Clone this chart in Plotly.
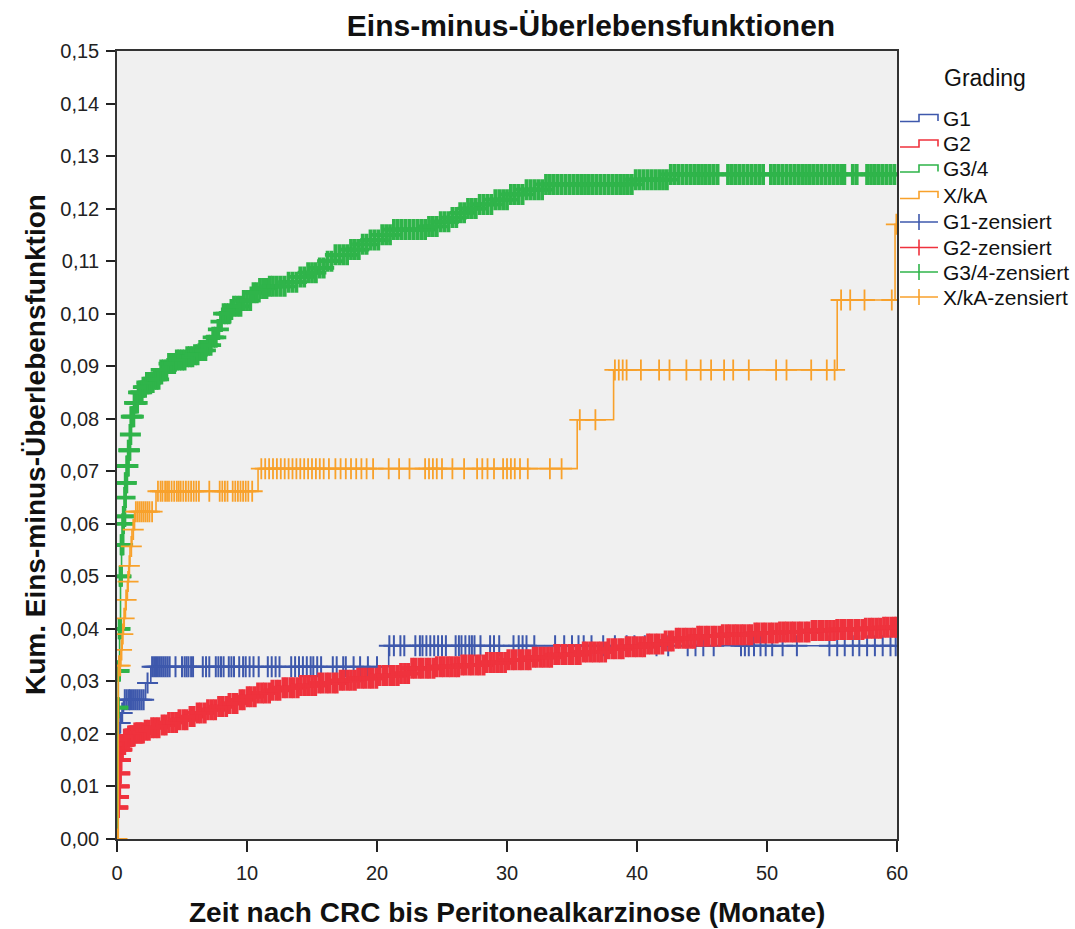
import plotly.graph_objects as go

# ---------------- data ----------------
GROUPS = ["G1", "G2", "G3/4", "X/kA"]
COLORS = ["#3E58AC", "#EF323D", "#2FB44A", "#F8A12B"]

# event times (months) and cumulative 1 - S(t) after each event
G1_T = [0.05, 0.2, 0.35, 0.5, 2.2, 2.6, 20.9]
G1_V = [0.0195, 0.0221, 0.0240, 0.0265, 0.0297, 0.0328, 0.0368]

G2_T = [0.02, 0.08, 0.13, 0.18, 0.23, 0.28, 0.4, 0.6, 0.9, 1.4, 2.1, 2.7, 3.3, 4.0, 4.6,
        5.4, 6.2, 7.0, 7.7, 8.5, 9.3, 10.0, 10.8, 11.8, 12.8, 14.1, 15.5, 17.0, 18.5, 20.0,
        21.8, 22.6, 24.5, 26.5, 28.3, 30.0, 31.8, 33.7, 35.7, 37.7, 39.2, 40.7, 42.0, 43.0,
        44.5, 46.5, 49.0, 51.0, 53.5, 55.4, 57.5, 59.0]
G2_V = [0.0060, 0.0080, 0.0100, 0.0125, 0.0150, 0.0170, 0.0180, 0.0190, 0.0196, 0.0202,
        0.0207, 0.0212, 0.0217, 0.0222, 0.0227, 0.0233, 0.0240, 0.0246, 0.0252, 0.0258,
        0.0265, 0.0271, 0.0278, 0.0283, 0.0288, 0.0292, 0.0297, 0.0302, 0.0306, 0.0311,
        0.0315, 0.0325, 0.0328, 0.0331, 0.0336, 0.0341, 0.0346, 0.0351, 0.0356, 0.0362,
        0.0366, 0.0371, 0.0377, 0.0382, 0.0386, 0.0389, 0.0392, 0.0394, 0.0397, 0.0399,
        0.0401, 0.0403]

G3_T = [0.03, 0.1, 0.2, 0.27, 0.35, 0.45, 0.5, 0.6, 0.65, 0.75, 0.9, 1.0, 1.1, 1.3, 1.6,
        2.0, 2.3, 2.8, 3.3, 3.9, 4.6, 5.4, 5.9, 6.4, 6.9, 7.3, 7.7, 8.0, 8.2, 8.7, 9.0, 9.6,
        10.3, 10.9, 11.6, 13.2, 13.9, 14.6, 15.4, 16.0, 16.7, 18.0, 18.8, 19.5, 20.4, 21.3,
        23.9, 24.9, 25.6, 26.2, 27.0, 27.7, 29.0, 30.3, 31.3, 32.8, 39.8, 42.6]
G3_V = [0.025, 0.032, 0.040, 0.050, 0.056, 0.060, 0.0614, 0.065, 0.0678, 0.071, 0.074,
        0.077, 0.0804, 0.083, 0.085, 0.086, 0.0869, 0.0875, 0.0893, 0.0905, 0.0912, 0.0918,
        0.0922, 0.0930, 0.0940, 0.0955, 0.0970, 0.0985, 0.1000, 0.1008, 0.1014, 0.1025,
        0.1040, 0.1048, 0.1052, 0.1060, 0.1070, 0.1078, 0.1087, 0.1100, 0.1112, 0.1122,
        0.1132, 0.1140, 0.1150, 0.1160, 0.1166, 0.1175, 0.1183, 0.1192, 0.1200, 0.1208,
        0.1217, 0.1227, 0.1236, 0.1246, 0.1255, 0.1265]

XKA_T = [0.1, 0.3, 0.4, 0.5, 0.65, 0.8, 0.9, 1.0, 1.15, 1.35, 3.0, 10.85, 35.4, 38.2, 55.4, 59.85]
XKA_V = [0.033, 0.036, 0.039, 0.042, 0.0455, 0.049, 0.052, 0.0557, 0.0589, 0.0623, 0.0662,
         0.0705, 0.0798, 0.0893, 0.1026, 0.1170]

# censoring times (months)
G1_CENS = [0.1, 0.25, 0.4, 0.6, 0.75, 0.9, 1.0, 1.15, 1.3, 1.45, 1.6, 1.75, 1.9, 2.05, 2.35,
           2.7, 2.85, 3.0, 3.15, 3.3, 3.45, 3.6, 3.75, 3.9, 4.05, 4.5, 5.0, 5.2, 5.35, 5.5,
           5.7, 5.85, 6.6, 6.85, 7.1, 7.6, 7.8, 8.0, 8.2, 8.6, 8.8, 9.0, 9.4, 9.7, 9.9, 10.2,
           10.5, 10.9, 11.6, 11.9, 12.2, 12.5, 13.4, 13.7, 14.0, 14.3, 14.6, 14.9, 15.1, 15.4,
           15.7, 16.6, 16.9, 17.4, 17.6, 18.2, 18.7, 19.3, 20.0, 20.95, 21.3, 21.8, 22.1,
           22.95, 23.3, 23.5, 23.8, 24.1, 24.4, 24.7, 25.0, 25.3, 26.05, 26.3, 26.5, 26.8,
           27.1, 27.3, 27.5, 27.96, 28.7, 29.0, 29.4, 30.5, 30.9, 31.2, 31.5, 32.1, 33.7,
           34.4, 35.0, 35.5, 35.9, 36.5, 37.4, 38.3, 39.2, 39.8, 40.6, 41.5, 42.4, 43.9,
           44.5, 45.1, 45.9, 48.0, 48.3, 48.6, 49.0, 49.5, 49.9, 50.4, 51.2, 52.3, 54.8,
           55.4, 55.98, 56.6, 57.1, 57.7, 58.3, 58.9, 59.5, 59.9]

G2_CENS = [0.03, 0.05, 0.07, 0.09, 0.1, 0.12, 0.14, 0.15, 0.17, 0.19, 0.2, 0.22, 0.24, 0.25,
           0.27, 0.29, 0.31, 0.35, 0.38, 0.42, 0.45, 0.48, 0.52, 0.56, 0.6, 0.65, 0.7, 0.75,
           0.8, 0.85, 0.92, 1.0, 1.08, 1.15, 1.22, 1.3, 1.4, 1.5, 1.6, 1.7, 1.8, 1.9, 2.0,
           2.2, 2.45, 2.7, 2.95, 3.2,
           3.5, 3.75, 4.0, 4.3, 4.55, 4.8, 5.1, 5.35, 5.65, 5.9, 6.2, 6.45, 6.75, 7.0, 7.3,
           7.55, 7.85, 8.1, 8.4, 8.65, 8.95, 9.2, 9.5, 9.75, 10.05, 10.3, 10.6, 10.85, 11.15,
           11.4, 11.7, 11.95, 12.25, 12.5, 12.8, 13.05, 13.35, 13.6, 13.9, 14.15, 14.45, 14.7,
           15.0, 15.25, 15.55, 15.8, 16.1, 16.35, 16.65, 16.9, 17.2, 17.45, 17.75, 18.0, 18.3,
           18.55, 18.85, 19.1, 19.4, 19.65, 19.95, 20.2, 20.5, 20.75, 21.05, 21.3, 21.6,
           21.85, 22.15, 22.4, 22.7, 22.95, 23.25, 23.5, 23.8, 24.05, 24.35, 24.6, 24.9,
           25.15, 25.45, 25.7, 26.0, 26.25, 26.55, 26.8, 27.1, 27.35, 27.65, 27.9, 28.2,
           28.45, 28.75, 29.0, 29.3, 29.55, 29.85, 30.1, 30.4, 30.65, 30.95, 31.2, 31.5,
           31.75, 32.05, 32.3, 32.6, 32.85, 33.15, 33.4, 33.7, 33.95, 34.25, 34.5, 34.8,
           35.05, 35.35, 35.6, 35.9, 36.15, 36.45, 36.7, 37.0, 37.25, 37.55, 37.8, 38.1,
           38.35, 38.65, 38.9, 39.2, 39.45, 39.75, 40.0, 40.3, 40.55, 40.85, 41.1, 41.4,
           41.65, 41.95, 42.2, 42.5, 42.75, 43.05, 43.3, 43.6, 43.85, 44.15, 44.4, 44.7,
           44.95, 45.25, 45.5, 45.8, 46.05, 46.35, 46.6, 46.9, 47.15, 47.45, 47.7, 48.0,
           48.25, 48.55, 48.8, 49.1, 49.35, 49.65, 49.9, 50.2, 50.45, 50.75, 51.0, 51.3,
           51.55, 51.85, 52.1, 52.4, 52.65, 52.95, 53.2, 53.5, 53.75, 54.05, 54.3, 54.6,
           54.85, 55.15, 55.4, 55.7, 55.95, 56.25, 56.5, 56.8, 57.05, 57.35, 57.6, 57.9,
           58.15, 58.45, 58.7, 59.0, 59.25, 59.55, 59.8, 59.95]

G3_CENS = [0.04, 0.07, 0.1, 0.13, 0.16, 0.2, 0.23, 0.27, 0.31, 0.35, 0.39, 0.43, 0.47, 0.52,
           0.57, 0.62, 0.67, 0.72, 0.78, 0.84, 0.9, 0.96, 1.03, 1.1, 1.18, 1.26, 1.35, 1.45,
           1.55, 1.66, 1.78, 1.9, 2.03, 2.16, 2.3, 2.45, 2.6, 2.75, 2.9, 3.05, 3.2, 3.4, 3.6,
           3.8, 4.0, 4.2, 4.4, 4.6, 4.8, 5.0, 5.2, 5.4, 5.6, 5.8, 6.0, 6.2, 6.4, 6.6, 6.8, 7.0,
           7.2, 7.4, 7.6, 7.8, 8.0, 8.2, 8.4, 8.6, 8.8, 9.0, 9.25, 9.5, 9.75, 10.0, 10.25,
           10.5, 10.75, 11.0, 11.25, 11.5, 11.75, 12.0, 12.3, 12.6, 12.9, 13.2, 13.5, 13.8,
           14.1, 14.4, 14.7, 15.0, 15.3, 15.6, 15.9, 16.2, 16.5, 16.8, 17.1, 17.4, 17.7, 18.0,
           18.3, 18.6, 18.9, 19.2, 19.5, 19.8, 20.1, 20.4, 20.7, 21.0, 21.3, 21.6, 21.9, 22.2,
           22.5, 22.8, 23.1, 23.4, 23.7, 24.0, 24.3, 24.6, 24.9, 25.2, 25.5, 25.8, 26.1, 26.4,
           26.7, 27.0, 27.3, 27.6, 27.9, 28.2, 28.5, 28.8, 29.1, 29.4, 29.7, 30.0, 30.3, 30.6,
           30.9, 31.2, 31.5, 31.8, 32.1, 32.4, 32.7, 33.0, 33.3, 33.6, 33.9, 34.2, 34.5, 34.8,
           35.1, 35.4, 35.7, 36.0, 36.3, 36.6, 36.9, 37.2, 37.5, 37.8, 38.1, 38.4, 38.7, 39.0,
           39.3, 39.6, 39.9, 40.2, 40.5, 40.8, 41.1, 41.4, 41.7, 42.0, 42.3, 42.6, 42.9, 43.2,
           43.5, 43.8, 44.1, 44.4, 44.7, 45.0, 45.3, 45.6, 45.9, 46.2, 47.0, 47.3, 47.6, 47.9,
           48.2, 48.5, 48.8, 49.1, 49.4, 49.7, 50.3, 50.6, 50.9, 51.2, 51.5, 51.8, 52.1, 52.4,
           52.7, 53.0, 53.3, 53.6, 53.9, 54.2, 54.5, 54.8, 55.1, 55.4, 55.7, 55.95, 56.6,
           56.9, 57.7, 58.0, 58.3, 58.6, 58.9, 59.2, 59.5, 59.8]

XKA_CENS = [0.0, 0.15, 0.25, 0.35, 0.45, 0.55, 0.7, 0.85, 0.95, 1.1, 1.25, 1.45, 1.6, 1.75,
            1.9, 2.05, 2.2, 2.35, 2.5, 2.7, 3.15, 3.35, 3.5, 3.7, 3.85, 4.0, 4.2, 4.4, 4.6,
            4.75, 4.9, 5.1, 5.3, 5.5, 5.7, 5.9, 6.1, 6.3, 7.1, 7.9, 8.1, 8.3, 8.5, 8.9, 9.1,
            9.3, 9.5, 9.7, 9.9, 10.1, 10.4, 11.1, 11.4, 11.7, 12.0, 12.3, 12.6, 12.9, 13.2,
            13.5, 13.8, 14.1, 14.4, 14.7, 15.0, 15.3, 15.6, 15.9, 16.3, 16.8, 17.2, 17.6,
            18.0, 18.4, 18.8, 19.2, 19.7, 20.9, 21.7, 22.5, 23.7, 24.0, 24.3, 24.6, 25.0,
            25.8, 26.7, 27.7, 28.1, 28.5, 29.0, 29.7, 30.0, 30.3, 30.6, 31.0, 31.6, 33.3,
            34.2, 35.6, 36.8, 38.3, 38.6, 38.9, 39.2, 40.3, 41.7, 42.5, 43.8, 44.9, 45.7,
            46.7, 47.4, 48.6, 50.7, 51.5, 53.4, 54.6, 55.2, 55.7, 56.4, 57.5, 59.6, 59.95]

STEP_T = [G1_T, G2_T, G3_T, XKA_T]
STEP_V = [G1_V, G2_V, G3_V, XKA_V]
CENS = [G1_CENS, G2_CENS, G3_CENS, XKA_CENS]
MARK_W = [2.0, 3.8, 3.8, 1.8]

X_MAX = 60
Y_TICKS = [i / 100 for i in range(0, 16)]
X_TICKS = [0, 10, 20, 30, 40, 50, 60]

FONT = "Liberation Sans, Arial, sans-serif"


def step_value(times, values, t):
    v = 0.0
    for ti, vi in zip(times, values):
        if ti <= t:
            v = vi
    return v


fig = go.Figure()
for name, col, ts, vs, cs, mw in zip(GROUPS, COLORS, STEP_T, STEP_V, CENS, MARK_W):
    fig.add_trace(go.Scatter(
        x=[0] + ts + [X_MAX], y=[0] + vs + [vs[-1]],
        mode="lines", line=dict(color=col, width=1.6, shape="hv"),
        name=name, showlegend=False, hoverinfo="skip"))
    fig.add_trace(go.Scatter(
        x=cs, y=[step_value(ts, vs, c) for c in cs],
        mode="markers",
        marker=dict(symbol="cross-thin", size=15, color=col,
                    line=dict(color=col, width=mw)),
        name=name + "-zensiert", showlegend=False, hoverinfo="skip"))

# ---------------- layout geometry ----------------
L, R, T, B = 117, 897, 51, 839


def px(xp):
    return (xp - L) / (R - L)


def py(yp):
    return (B - yp) / (B - T)


shapes = []
annotations = []

# legend (manual, to reproduce step glyphs)
rows = [118, 143.5, 168.5, 195, 222, 247.5, 272, 297]
labels = GROUPS + [g + "-zensiert" for g in GROUPS]
for i, lab in enumerate(labels):
    yc = rows[i]
    col = COLORS[i % 4]
    if i < 4:
        path = "M{},{} L{},{} L{},{} L{},{} L{},{}".format(
            px(900), py(yc + 3.5), px(919), py(yc + 3.5), px(919), py(yc - 3.5),
            px(938), py(yc - 3.5), px(938), py(yc + 3))
        shapes.append(dict(type="path", path=path, xref="paper", yref="paper",
                           line=dict(color=col, width=1.6)))
    else:
        shapes.append(dict(type="line", xref="paper", yref="paper",
                           x0=px(900), x1=px(938), y0=py(yc), y1=py(yc),
                           line=dict(color=col, width=1.6)))
        shapes.append(dict(type="line", xref="paper", yref="paper",
                           x0=px(919), x1=px(919), y0=py(yc - 8), y1=py(yc + 8),
                           line=dict(color=col, width=1.6)))
    annotations.append(dict(text=lab, xref="paper", yref="paper", x=px(941), y=py(yc),
                            xanchor="left", yanchor="middle", showarrow=False,
                            font=dict(family=FONT, size=21, color="#111")))

annotations.append(dict(text="Grading", xref="paper", yref="paper", x=px(942), y=py(78),
                        xanchor="left", yanchor="middle", showarrow=False,
                        font=dict(family=FONT, size=23, color="#111")))

# axis titles
annotations.append(dict(text="<b>Zeit nach CRC bis Peritonealkarzinose (Monate)</b>",
                        xref="paper", yref="paper", x=0.5, y=py(912),
                        xanchor="center", yanchor="middle", showarrow=False,
                        font=dict(family=FONT, size=28, color="#111")))
annotations.append(dict(text="<b>Kum. Eins-minus-Überlebensfunktion</b>",
                        xref="paper", yref="paper", x=px(35), y=0.5, textangle=-90,
                        xanchor="center", yanchor="middle", showarrow=False,
                        font=dict(family=FONT, size=28, color="#111")))

fig.update_layout(
    width=1075, height=929,
    margin=dict(l=L, r=1075 - R, t=T, b=929 - B, pad=0),
    paper_bgcolor="white", plot_bgcolor="#F0F0F0",
    separators=",.",
    showlegend=False,
    title=dict(text="<b>Eins-minus-Überlebensfunktionen</b>", xref="container",
               yref="container", x=591 / 1075, y=1 - 25 / 929,
               xanchor="center", yanchor="middle",
               font=dict(family=FONT, size=30, color="#111")),
    shapes=shapes, annotations=annotations,
)
fig.update_xaxes(range=[0, X_MAX], tickvals=X_TICKS, ticks="outside", ticklen=11,
                 tickwidth=1.5, tickcolor="#222", showgrid=False, zeroline=False,
                 showline=True, linecolor="#333", linewidth=1.5, mirror=True,
                 ticklabelstandoff=4,
                 tickfont=dict(family=FONT, size=20, color="#222"))
fig.update_yaxes(range=[0, 0.15], tickvals=Y_TICKS, tickformat=".2f", ticks="outside",
                 ticklen=9, tickwidth=1.5, tickcolor="#222", showgrid=False,
                 zeroline=False, showline=True, linecolor="#333", linewidth=1.5,
                 mirror=True, ticklabelstandoff=3,
                 tickfont=dict(family=FONT, size=20, color="#222"))

fig.write_html("out.html")
